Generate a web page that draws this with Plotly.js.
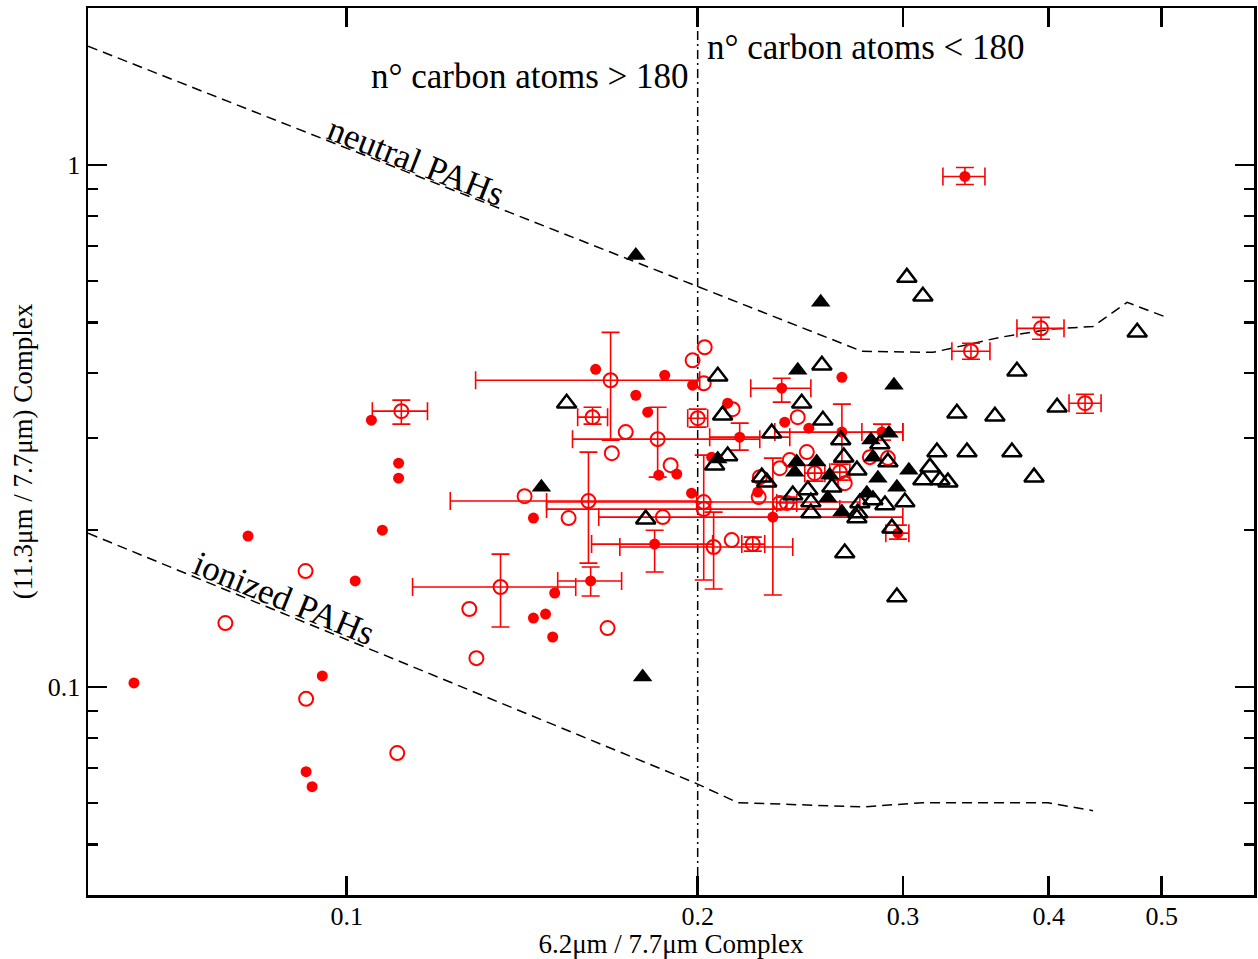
<!DOCTYPE html>
<html><head><meta charset="utf-8">
<script src="https://cdn.plot.ly/plotly-3.0.1.min.js"></script>
<style>html,body{margin:0;padding:0;background:#fff}</style>
</head><body><div id="chart" style="width:1258px;height:959px"></div>
<script>
// ---- model curves ----
const neutralX = [0.06, 0.2767, 0.3183, 0.3634, 0.401, 0.4366, 0.467, 0.505];
const neutralY = [1.69, 0.440, 0.438, 0.468, 0.485, 0.491, 0.546, 0.511];
const ionizedX = [0.06, 0.1989, 0.2165, 0.2772, 0.312, 0.3995, 0.4366];
const ionizedY = [0.1973, 0.0656, 0.0601, 0.0590, 0.0601, 0.0601, 0.058];
const dividerX = [0.2, 0.2];
const dividerY = [0.04, 2.0];

// ---- red filled circles (no error bars) ----
const redDotX = [0.0657,0.0823,0.0923,0.0934,0.0953,0.1017,0.1050,0.1073,0.1108,0.1108,0.1446,0.1508,0.1481,0.1446,0.1502,0.1635,0.1874,0.1770,0.1812,0.1980,0.1852,0.1919,0.1976,0.2122,0.2491,0.2056,0.2252,0.2659,0.2375];
const redDotY = [0.1019,0.1948,0.0689,0.0645,0.1051,0.1598,0.3247,0.1999,0.2687,0.2515,0.2109,0.1515,0.1381,0.1357,0.1248,0.4064,0.3959,0.3625,0.3364,0.3789,0.2548,0.2560,0.2354,0.3500,0.3135,0.2759,0.2365,0.3924,0.3219];

// ---- red filled circles with error bars ----
const redDotErrX   = [0.1619,0.1837,0.2173,0.2361,0.2320,0.2659,0.3390,0.2970,0.2878];
const redDotErrY   = [0.1598,0.1880,0.3013,0.3739,0.2118,0.3081,0.9514,0.1973,0.3081];
const redDotErrXlo = [0.1517,0.1622,0.2048,0.2221,0.1645,0.2329,0.3246,0.2900,0.2766];
const redDotErrXhi = [0.1721,0.2060,0.2399,0.2501,0.2999,0.2999,0.3527,0.3035,0.2999];
const redDotErrYlo = [0.1495,0.1662,0.2846,0.3516,0.1502,0.2699,0.9185,0.1922,0.2974];
const redDotErrYhi = [0.1699,0.1999,0.3205,0.3907,0.2747,0.3485,0.9899,0.2044,0.3191];

// ---- red open circles (no error bars) ----
const redRingX = [0.0787,0.0922,0.0923,0.1105,0.1274,0.1292,0.1421,0.1550,0.1674,0.1688,0.1735,0.1896,0.1867,0.1980,0.2028,0.2024,0.2143,0.2139,0.2437,0.2399,0.2481,0.2352,0.2261,0.2256,0.2352,0.2810,0.2912,0.2674];
const redRingY = [0.1327,0.1669,0.0950,0.0748,0.1412,0.1137,0.2323,0.2109,0.1298,0.2808,0.3081,0.2663,0.2118,0.4229,0.4479,0.3822,0.3409,0.1914,0.3291,0.2723,0.2821,0.2628,0.2526,0.2313,0.2253,0.2759,0.2747,0.2460];

// ---- red open circles with error bars ----
const redRingErrX   = [0.1114,0.1684,0.1625,0.1848,0.1612,0.1355,0.2024,0.2024,0.2064,0.2230,0.2000,0.3940,0.3431,0.4298,0.2520,0.2648,0.2385];
const redRingErrY   = [0.3379,0.3873,0.3291,0.2987,0.2273,0.1556,0.2263,0.2194,0.1856,0.1880,0.3276,0.4869,0.4401,0.3500,0.2571,0.2582,0.2253];
const redRingErrXlo = [0.1052,0.1290,0.1578,0.1562,0.1227,0.1139,0.1484,0.1484,0.1715,0.2182,0.1961,0.3757,0.3304,0.4164,0.2471,0.2596,0.2338];
const redRingErrXhi = [0.1173,0.2008,0.1674,0.2261,0.1996,0.1572,0.2755,0.2648,0.2413,0.2283,0.2040,0.4123,0.3562,0.4436,0.2571,0.2701,0.2432];
const redRingErrYlo = [0.3191,0.2974,0.3191,0.2526,0.1729,0.1304,0.2263,0.1605,0.1542,0.1823,0.3149,0.4639,0.4248,0.3349,0.2482,0.2493,0.2194];
const redRingErrYhi = [0.3547,0.4784,0.3439,0.3439,0.2821,0.1799,0.2263,0.2784,0.2165,0.1939,0.3409,0.5111,0.4558,0.3641,0.2663,0.2675,0.2313];

// ---- black filled triangles ----
const blackFillX = [0.1770,0.2550,0.2437,0.2947,0.1469,0.1794,0.2081,0.2432,0.2530,0.2423,0.2816,0.2827,0.2596,0.2855,0.3035,0.2964,0.2586,0.2793,0.2659,0.2918];
const blackFillY = [0.6717,0.5461,0.4046,0.3789,0.2417,0.1046,0.2735,0.2699,0.2699,0.2582,0.2974,0.2759,0.2548,0.2515,0.2605,0.2417,0.2303,0.2354,0.2165,0.3067];

// ---- black open triangles ----
const blackOpenX = [0.1544,0.1805,0.2081,0.2101,0.2068,0.2122,0.2556,0.3023,0.3120,0.2456,0.2561,0.2315,0.2270,0.2292,0.2413,0.2486,0.2501,0.2501,0.2653,0.2866,0.2912,0.2669,0.2739,0.3208,0.3164,0.3120,0.3227,0.3278,0.2607,0.2755,0.2827,0.2895,0.3011,0.2744,0.2739,0.2935,0.2674,0.2964,0.3337,0.3597,0.3757,0.4067,0.4764,0.3404,0.3720,0.3886];
const blackOpenY = [0.3500,0.2099,0.3941,0.3320,0.2663,0.2772,0.4137,0.6096,0.5607,0.3500,0.3247,0.3067,0.2526,0.2471,0.2334,0.2386,0.2263,0.2156,0.2974,0.2922,0.2699,0.2759,0.2605,0.2821,0.2640,0.2493,0.2493,0.2471,0.2417,0.2253,0.2283,0.2233,0.2263,0.2156,0.2109,0.2017,0.1807,0.1489,0.3349,0.3305,0.4029,0.3439,0.4784,0.2821,0.2821,0.2526];

// ---- tick labels ----
const xTickVals = [0.1, 0.2, 0.3, 0.4, 0.5];
const xTickText = ['0.1', '0.2', '0.3', '0.4', '0.5'];
const yTickVals = [0.1, 1];
const yTickText = ['0.1', '1'];
const yMinorVals = [0.05,0.06,0.07,0.08,0.09,0.2,0.3,0.4,0.5,0.6,0.7,0.8,0.9];

const FONT = 'Liberation Serif, Times New Roman, serif';
const RED = '#ff0000';

function errX(v, lo, hi) {
  return {type:'data', symmetric:false,
    array: v.map((d,i)=>hi[i]-d), arrayminus: v.map((d,i)=>d-lo[i]),
    color: RED, thickness: 1.6, width: 9};
}

const traces = [
  {x: neutralX, y: neutralY, mode:'lines', line:{color:'black', width:1.5, dash:'10px,6px'}},
  {x: ionizedX, y: ionizedY, mode:'lines', line:{color:'black', width:1.5, dash:'10px,6px'}},
  {x: dividerX, y: dividerY, mode:'lines', line:{color:'black', width:1.5, dash:'9px,4px,2px,4px'}},
  {x: redDotX, y: redDotY, mode:'markers', marker:{symbol:'circle', size:11, color:RED}},
  {x: redRingX, y: redRingY, mode:'markers', marker:{symbol:'circle-open', size:14, color:RED, line:{width:2, color:RED}}},
  {x: redRingErrX, y: redRingErrY, mode:'markers',
   marker:{symbol:'circle-open', size:14, color:RED, line:{width:2, color:RED}},
   error_x: errX(redRingErrX, redRingErrXlo, redRingErrXhi),
   error_y: errX(redRingErrY, redRingErrYlo, redRingErrYhi)},
  {x: redDotErrX, y: redDotErrY, mode:'markers',
   marker:{symbol:'circle', size:11, color:RED},
   error_x: errX(redDotErrX, redDotErrXlo, redDotErrXhi),
   error_y: errX(redDotErrY, redDotErrYlo, redDotErrYhi)},
  {x: blackFillX, y: blackFillY, mode:'markers', marker:{symbol:'triangle-up', size:17, color:'black'}},
  {x: blackOpenX, y: blackOpenY, mode:'markers', marker:{symbol:'triangle-up-open', size:17, color:'black', line:{width:2.5, color:'black'}}}
];

const axisCommon = {
  type:'log', showgrid:false, zeroline:false, showline:true, linecolor:'black', linewidth:2.5,
  mirror:'ticks', ticks:'inside', tickcolor:'black', tickwidth:2.5, ticklen:19,
  tickmode:'array', tickfont:{family:FONT, size:26, color:'black'}
};

const layout = {
  width:1258, height:959,
  margin:{l:88, r:4, t:8, b:64},
  paper_bgcolor:'white', plot_bgcolor:'white',
  showlegend:false, hovermode:false,
  font:{family:FONT, color:'black'},
  xaxis: Object.assign({}, axisCommon, {
    range:[Math.log10(0.06), Math.log10(0.6)],
    tickvals: xTickVals, ticktext: xTickText,
    ticklabelstandoff:-4,
    title:{text:'6.2μm / 7.7μm Complex', font:{family:FONT, size:27, color:'black'}, standoff:7}
  }),
  yaxis: Object.assign({}, axisCommon, {
    range:[Math.log10(0.04), Math.log10(2)],
    tickvals: yTickVals, ticktext: yTickText,
    minor:{tickmode:'array', tickvals: yMinorVals, ticks:'inside', ticklen:10, tickwidth:2.5, tickcolor:'black', showgrid:false},
    title:{text:'(11.3μm / 7.7μm) Complex', font:{family:FONT, size:27, color:'black'}, standoff:8}
  }),
  annotations:[
    {xref:'paper', yref:'paper', x:(691-88)/1166, y:(895-76)/887, xanchor:'right', yanchor:'middle', showarrow:false,
     text:'n° carbon atoms &gt; 180', font:{family:FONT, size:35, color:'black'}},
    {xref:'paper', yref:'paper', x:(705-88)/1166, y:(895-48)/887, xanchor:'left', yanchor:'middle', showarrow:false,
     text:'n° carbon atoms &lt; 180', font:{family:FONT, size:35, color:'black'}},
    {xref:'paper', yref:'paper', x:(416-88)/1166, y:(895-161)/887, xanchor:'center', yanchor:'middle', showarrow:false,
     textangle:21.5, text:'neutral PAHs', font:{family:FONT, size:35, color:'black'}},
    {xref:'paper', yref:'paper', x:(284-88)/1166, y:(895-598)/887, xanchor:'center', yanchor:'middle', showarrow:false,
     textangle:22.4, text:'ionized PAHs', font:{family:FONT, size:35, color:'black'}}
  ]
};

Plotly.newPlot('chart', traces, layout, {staticPlot:true, displayModeBar:false});
</script></body></html>
